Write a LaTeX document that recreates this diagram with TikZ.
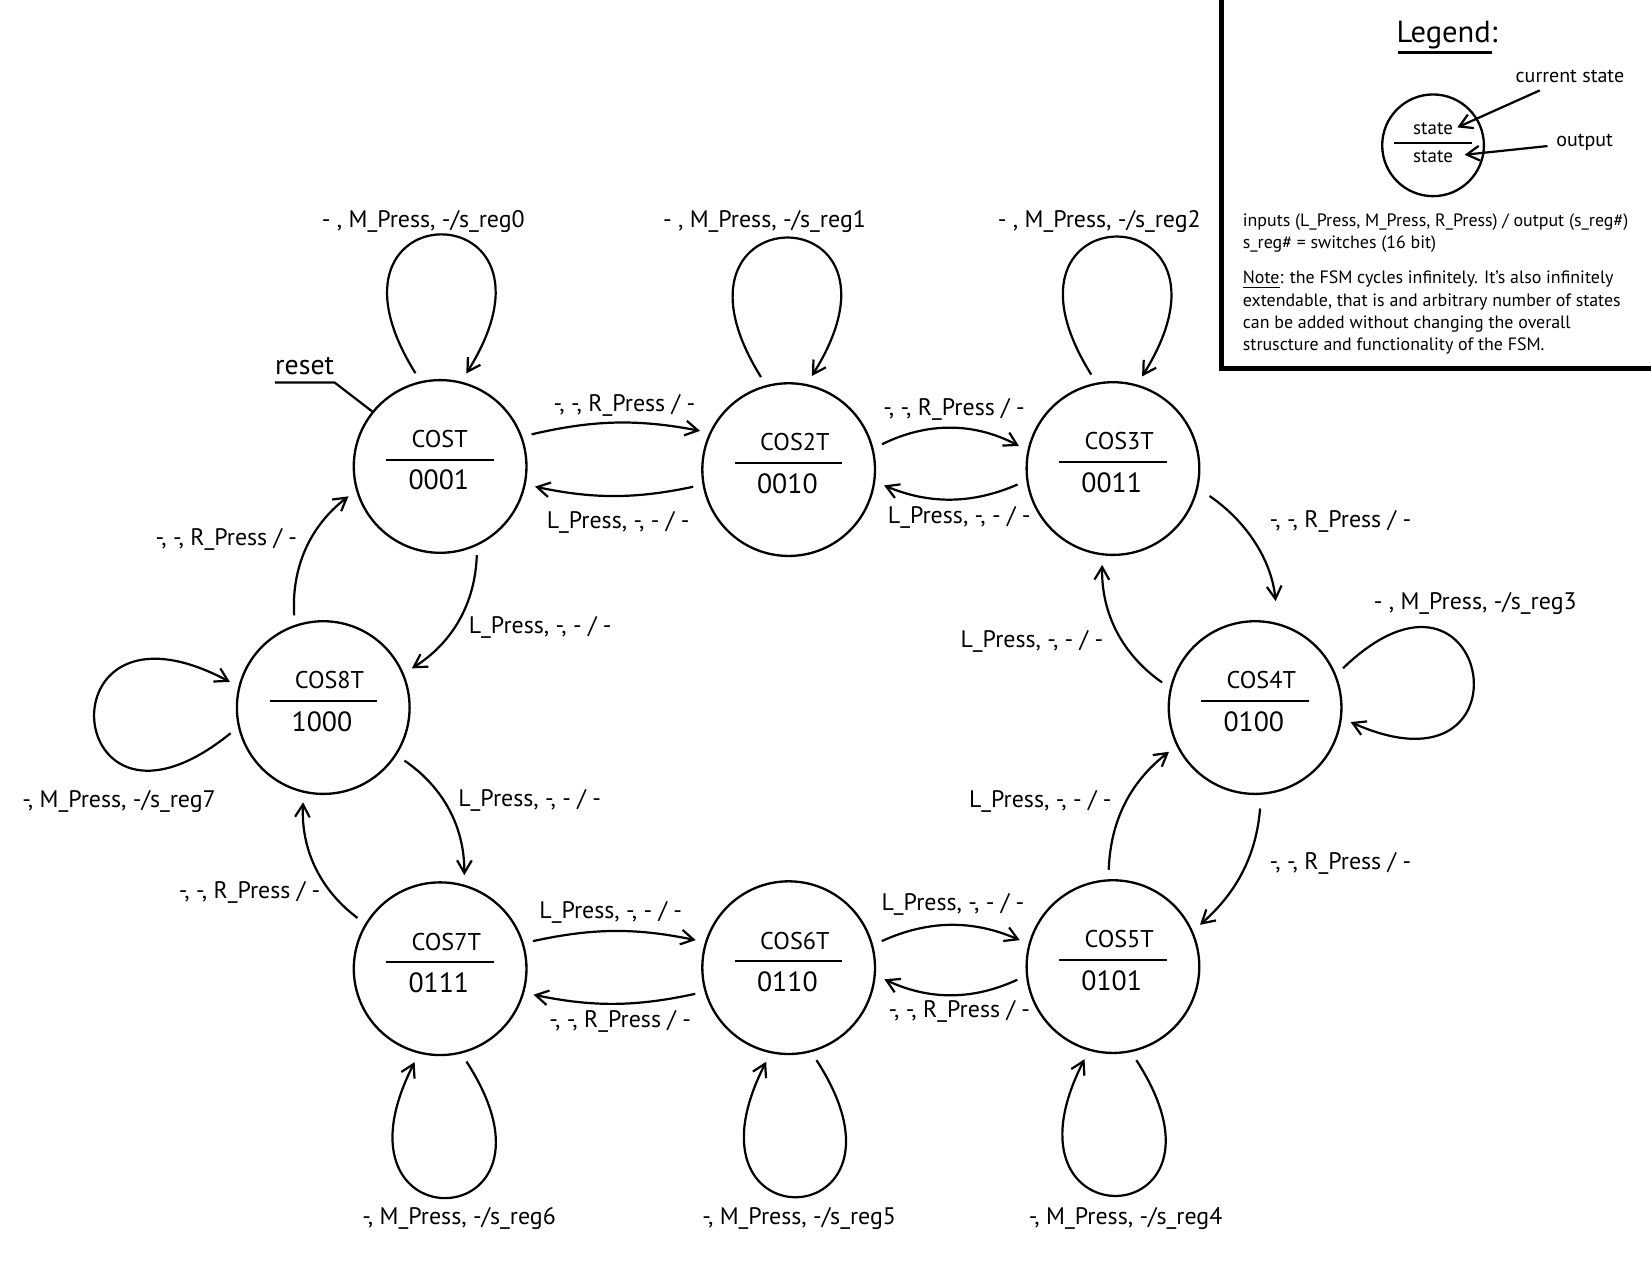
\documentclass[tikz,border=0pt]{standalone}
\usepackage{fontspec}
\setmainfont{PT Sans}
\usetikzlibrary{arrows.meta}
\tikzset{
STATE/.style={draw=black,circle,line width=1.1pt,minimum size=82pt,inner sep=0pt},
TRANS/.style={draw=black,line width=1.05pt,-{Straight Barb[length=6pt,width=7pt]},shorten >=4.5pt,shorten <=4.5pt},
LOOP/.style={TRANS,distance=108pt},
LABEL/.style={inner sep=0pt,font=\fontsize{11.35}{13}\selectfont},
LEGTEXT/.style={inner sep=2pt,font=\fontsize{9.5}{11}\selectfont},
NOTE/.style={inner sep=0pt,align=left,font=\fontsize{8.5}{10.25}\selectfont},
}
\newcommand{\statetext}[2]{\vbox{\hbox to 51pt{\kern12pt\rule{0pt}{9pt}\fontsize{11.5}{13}\selectfont#1\hfil}\kern5pt\hrule height 1pt\kern4.47pt\hbox to 51pt{\kern10.5pt\rule{0pt}{9pt}\fontsize{13.2}{15}\selectfont#2\hfil}\kern6.53pt}}
\newcommand{\legendtext}{\vbox{\hbox to 37pt{\hfil\rule{0pt}{6.5pt}state\hfil}\kern3.5pt\hrule height 1pt\kern2pt\hbox to 37pt{\hfil\rule{0pt}{6.5pt}state\hfil}\kern3.5pt}}

\begin{document}
\begin{tikzpicture}[x=0.5pt,y=-0.5pt]
	\useasboundingbox (0,0) rectangle (1568,1214);
	%States
	\node[STATE] (cost) at (418,443) {\statetext{COST}{0001}};
	\node[STATE] (cos2t) at (749,446) {\statetext{COS2T}{0010}};
	\node[STATE] (cos3t) at (1057,445) {\statetext{COS3T}{0011}};
	\node[STATE] (cos4t) at (1192,672) {\statetext{COS4T}{0100}};
	\node[STATE] (cos5t) at (1057,918) {\statetext{COS5T}{0101}};
	\node[STATE] (cos6t) at (749,919) {\statetext{COS6T}{0110}};
	\node[STATE] (cos7t) at (418,920) {\statetext{COS7T}{0111}};
	\node[STATE] (cos8t) at (307,672) {\statetext{COS8T}{1000}};
	%Reset
	\node[anchor=base west,inner xsep=0pt,inner ysep=3.25pt,font=\fontsize{13.2}{15}\selectfont] (rst) at (261,356) {reset};
	\draw[line width=1.05pt] (rst.south west) -- (rst.south east) -- (cost.141);
	%Top row
	\draw[TRANS] (cost.20) to[bend left=12] (cos2t.155);
	\draw[TRANS] (cos2t.190) to[bend left=12] (cost.348);
	\draw[TRANS] (cos2t.14) to[bend left=27] (cos3t.168);
	\draw[TRANS] (cos3t.188) to[bend left=23] (cos2t.352);
	\node[LABEL] (l12) at (593,385) {-, -, R\_Press / -};
	\node[LABEL] (l21) at (587,496) {L\_Press, -, - / -};
	\node[LABEL] (l23) at (906,389) {-, -, R\_Press / -};
	\node[LABEL] (l32) at (911,491) {L\_Press, -, - / -};
	%Right side
	\draw[TRANS,shorten >=10.5pt,shorten <=6.5pt] (cos3t.-13) to[bend left=25] (cos4t.75);
	\draw[TRANS,shorten <=6.5pt] (cos4t.-86) to[bend left=22] (cos5t.24);
	\draw[TRANS] (cos5t.93) to[bend left=25] (cos4t.206);
	\draw[TRANS] (cos4t.167) to[bend left=28] (cos3t.263);
	\node[LABEL] (l34) at (1273,495) {-, -, R\_Press / -};
	\node[LABEL] (l45) at (1273,820) {-, -, R\_Press / -};
	\node[LABEL] (l54) at (988,761) {L\_Press, -, - / -};
	\node[LABEL] (l43) at (980,609) {L\_Press, -, - / -};
	%Bottom row
	\draw[TRANS] (cos7t.17) to[bend left=12] (cos6t.163);
	\draw[TRANS] (cos6t.196) to[bend left=12] (cos7t.344);
	\draw[TRANS] (cos6t.15) to[bend left=24] (cos5t.165);
	\draw[TRANS] (cos5t.186) to[bend left=25] (cos6t.355);
	\node[LABEL] (l76) at (580,867) {L\_Press, -, - / -};
	\node[LABEL] (l67) at (589,970) {-, -, R\_Press / -};
	\node[LABEL] (l65) at (905,859) {L\_Press, -, - / -};
	\node[LABEL] (l56) at (911,961) {-, -, R\_Press / -};
	%Left side
	\draw[TRANS] (cost.-65) to[bend left=28] (cos8t.23);
	\draw[TRANS] (cos8t.109) to[bend left=28] (cost.196);
	\draw[TRANS] (cos8t.-33) to[bend left=28] (cos7t.74);
	\draw[TRANS] (cos7t.149) to[bend left=28] (cos8t.257);
	\node[LABEL] (l18) at (513,596) {L\_Press, -, - / -};
	\node[LABEL] (l81) at (215,512) {-, -, R\_Press / -};
	\node[LABEL] (l87) at (503,760) {L\_Press, -, - / -};
	\node[LABEL] (l78) at (237,848) {-, -, R\_Press / -};
	%Self-loops
	\draw[LOOP] (cost.103) to[out=122,in=58] (cost.76);
	\draw[LOOP] (cos2t.105) to[out=122,in=58] (cos2t.78);
	\draw[LOOP] (cos3t.101) to[out=122,in=58] (cos3t.74);
	\draw[LOOP,distance=102pt] (cos4t.22) to[out=44,in=-24] (cos4t.-7);
	\draw[LOOP,distance=104pt] (cos5t.-78) to[out=-57,in=-117] (cos5t.-106);
	\draw[LOOP,distance=104pt] (cos6t.-75) to[out=-57,in=-117] (cos6t.-102);
	\draw[LOOP,distance=104pt] (cos7t.-76) to[out=-57,in=-117] (cos7t.-104);
	\draw[LOOP,distance=108pt] (cos8t.193) to[out=219,in=152] (cos8t.166);
	\node[LABEL] (m1) at (402,210) {- , M\_Press, -/s\_reg0};
	\node[LABEL] (m2) at (726,210) {- , M\_Press, -/s\_reg1};
	\node[LABEL] (m3) at (1044,210) {- , M\_Press, -/s\_reg2};
	\node[LABEL] (m4) at (1401,573) {- , M\_Press, -/s\_reg3};
	\node[LABEL] (m5) at (1069,1157) {-, M\_Press, -/s\_reg4};
	\node[LABEL] (m6) at (759,1157) {-, M\_Press, -/s\_reg5};
	\node[LABEL] (m7) at (436,1157) {-, M\_Press, -/s\_reg6};
	\node[LABEL] (m8) at (113,761) {-, M\_Press, -/s\_reg7};
	%Legend
	\draw[line width=2pt] (1160,0) -- (1160,350) -- (1568,350);
	\node[anchor=base west,inner sep=0pt,font=\fontsize{14.5}{16}\selectfont] (lgd) at (1326,40) {Legend:};
	\draw[line width=1.3pt] ([xshift=1pt,yshift=-5pt]lgd.base west) -- ([xshift=45.5pt,yshift=-5pt]lgd.base west);
	\node[STATE,minimum size=48.3pt,font=\fontsize{9}{10}\selectfont] (lgs) at (1361,138) {\legendtext};
	\node[LEGTEXT] (cur) at (1491,73) {current state};
	\coordinate (curtip) at (1384,121);
	\draw[TRANS,shorten >=0pt,shorten <=3pt] (cur) -- (curtip);
	\node[LEGTEXT] (outp) at (1505,135) {output};
	\coordinate (outtip) at (1391,147);
	\draw[TRANS,shorten >=0pt,shorten <=2pt] (outp) -- (outtip);
	\node[NOTE,anchor=west] (inp) at (1180,221.5) {inputs (L\_Press, M\_Press, R\_Press) / output (s\_reg\#)\\s\_reg\# = switches (16 bit)};
	\node[NOTE,anchor=west,font=\fontsize{8.5}{10.55}\selectfont] (note) at (1180,297) {\underline{Note}: the FSM cycles infinitely. It’s also infinitely\\extendable, that is and arbitrary number of states\\can be added without changing the overall\\struscture and functionality of the FSM.};
\end{tikzpicture}
\end{document}
